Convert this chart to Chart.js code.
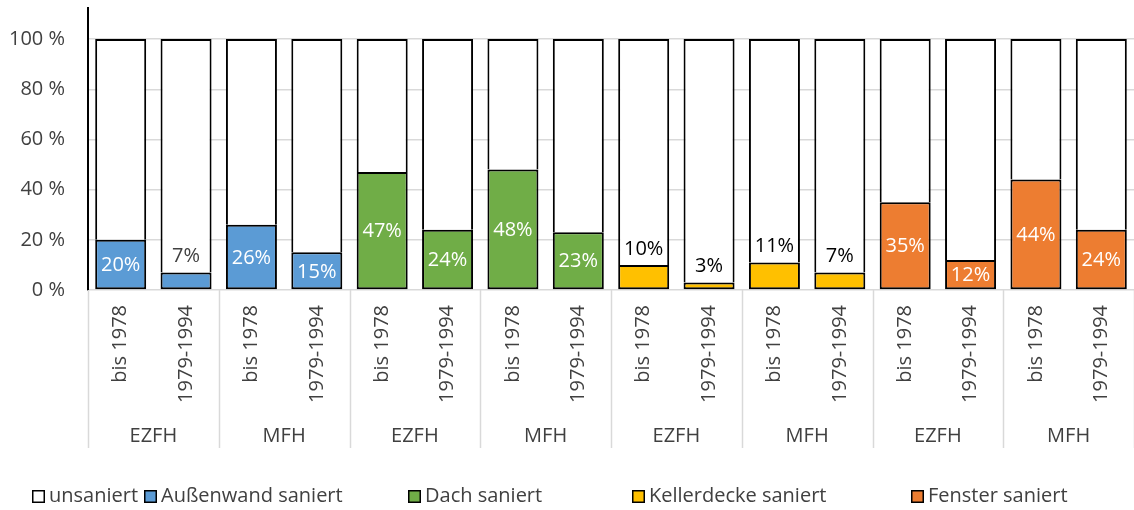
<!DOCTYPE html>
<html>
<head>
<meta charset="utf-8">
<script src="https://cdn.jsdelivr.net/npm/chart.js@4/dist/chart.umd.min.js"></script>
<style>
  html, body { margin: 0; padding: 0; background: #fff; }
  #wrap { width: 1134px; height: 510px; position: relative; }
</style>
</head>
<body>
<div id="wrap"><canvas id="c" width="1134" height="510"></canvas></div>
<script>
// Baualtersklassen (erste Achsenebene) und Gebäudetypen (zweite Ebene)
const periods = [
  'bis 1978', '1979-1994', 'bis 1978', '1979-1994',
  'bis 1978', '1979-1994', 'bis 1978', '1979-1994',
  'bis 1978', '1979-1994', 'bis 1978', '1979-1994',
  'bis 1978', '1979-1994', 'bis 1978', '1979-1994'
];
const buildingTypes = ['EZFH', 'MFH', 'EZFH', 'MFH', 'EZFH', 'MFH', 'EZFH', 'MFH'];

// Anteile in Prozent je Bauteil
const aussenwand  = [20, 7, 26, 15, null, null, null, null, null, null, null, null, null, null, null, null];
const dach        = [null, null, null, null, 47, 24, 48, 23, null, null, null, null, null, null, null, null];
const kellerdecke = [null, null, null, null, null, null, null, null, 10, 3, 11, 7, null, null, null, null];
const fenster     = [null, null, null, null, null, null, null, null, null, null, null, null, 35, 12, 44, 24];
const unsaniert   = [80, 93, 74, 85, 53, 76, 52, 77, 90, 97, 89, 93, 65, 88, 56, 76];

const yTicks = [0, 20, 40, 60, 80, 100];

const FONT = '"Open Sans", "Noto Sans", sans-serif';
const TEXT = '#404040';
const GRID = '#d9d9d9';

// Legend slot positions along the bottom row
const legendSlots = [32, 144, 408, 632, 911];

const colored = (label, data, color, labelMode) => ({
  label, data, backgroundColor: color, borderColor: '#000', borderWidth: 2,
  borderSkipped: false, labelMode
});

const datasets = [
  colored('Außenwand saniert', aussenwand, '#5B9BD5', 'auto'),
  colored('Dach saniert', dach, '#70AD47', 'auto'),
  colored('Kellerdecke saniert', kellerdecke, '#FFC000', 'above'),
  colored('Fenster saniert', fenster, '#ED7D31', 'auto'),
  {
    label: 'unsaniert', data: unsaniert, backgroundColor: '#fff', borderColor: '#000',
    borderWidth: 2, borderSkipped: 'start', labelMode: 'none'
  }
];
const legendOrder = ['unsaniert', 'Außenwand saniert', 'Dach saniert', 'Kellerdecke saniert', 'Fenster saniert'];

// Value labels on the renovated shares
const valueLabels = {
  id: 'valueLabels',
  afterDatasetsDraw(chart) {
    const ctx = chart.ctx;
    ctx.save();
    ctx.textAlign = 'center';
    ctx.textBaseline = 'middle';
    ctx.font = '20px ' + FONT;
    chart.data.datasets.forEach((ds, di) => {
      if (ds.labelMode === 'none') return;
      const meta = chart.getDatasetMeta(di);
      meta.data.forEach((bar, i) => {
        const v = ds.data[i];
        if (v === null || v === undefined) return;
        const text = v + '%';
        const above = ds.labelMode === 'above' || v < 10;
        if (above) {
          ctx.fillStyle = ds.labelMode === 'above' ? '#000' : TEXT;
          ctx.fillText(text, bar.x, bar.y - 16);
        } else {
          ctx.fillStyle = '#fff';
          ctx.fillText(text, bar.x, (bar.y + bar.base) / 2 + 1);
        }
      });
    });
    ctx.restore();
  }
};

// Two-level category axis and bottom legend
const categoryAxis = {
  id: 'categoryAxis',
  afterDraw(chart) {
    const ctx = chart.ctx;
    const xs = chart.scales.x;
    const area = chart.chartArea;
    const step = (xs.right - xs.left) / periods.length;
    ctx.save();

    // rotated period labels
    ctx.font = '20px ' + FONT;
    ctx.fillStyle = TEXT;
    periods.forEach((p, i) => {
      const x = xs.getPixelForValue(i);
      ctx.save();
      ctx.translate(x, area.bottom + 15);
      ctx.rotate(-Math.PI / 2);
      ctx.textAlign = 'right';
      ctx.textBaseline = 'middle';
      ctx.fillText(p, 0, 0);
      ctx.restore();
    });

    // group separators
    ctx.strokeStyle = GRID;
    ctx.lineWidth = 1.5;
    for (let k = 0; k <= buildingTypes.length; k++) {
      const x = Math.round(xs.left + k * 2 * step) + 0.5;
      ctx.beginPath();
      ctx.moveTo(x, area.bottom);
      ctx.lineTo(x, area.bottom + 158);
      ctx.stroke();
    }

    // building type labels
    ctx.textAlign = 'center';
    ctx.textBaseline = 'middle';
    buildingTypes.forEach((t, k) => {
      const x = xs.left + (k * 2 + 1) * step;
      ctx.fillText(t, x, area.bottom + 146);
    });

    // legend
    const ly = 496.5;
    legendOrder.forEach((name, j) => {
      const ds = chart.data.datasets.find(d => d.label === name);
      const mx = legendSlots[j];
      ctx.fillStyle = ds.backgroundColor;
      ctx.fillRect(mx, ly - 6.5, 13, 13);
      ctx.strokeStyle = '#000';
      ctx.lineWidth = 1.5;
      ctx.strokeRect(mx + 0.75, ly - 5.75, 11.5, 11.5);
      ctx.fillStyle = TEXT;
      ctx.textAlign = 'left';
      ctx.fillText(name, mx + 17, ly);
    });
    ctx.restore();
  }
};

new Chart(document.getElementById('c'), {
  type: 'bar',
  data: { labels: periods, datasets },
  options: {
    responsive: false,
    devicePixelRatio: 1,
    animation: false,
    layout: { padding: { top: 8, right: 0, bottom: 0, left: 0 } },
    plugins: { legend: { display: false }, tooltip: { enabled: false } },
    datasets: { bar: { barPercentage: 0.78, categoryPercentage: 1 } },
    scales: {
      x: {
        stacked: true,
        grid: { display: false },
        border: { display: false },
        ticks: { display: false },
        afterFit(s) { s.height = 220; s.paddingLeft = 0; s.paddingRight = 0; }
      },
      y: {
        stacked: true,
        min: 0,
        max: 112.4,
        afterBuildTicks(s) { s.ticks = yTicks.map(v => ({ value: v })); },
        afterFit(s) { s.width = 88; s.paddingTop = 0; s.paddingBottom = 0; },
        ticks: {
          padding: 23,
          color: TEXT,
          font: { family: FONT, size: 20 },
          callback: v => v + ' %'
        },
        grid: { color: GRID, lineWidth: 1.5, drawTicks: false },
        border: { color: '#000', width: 2 }
      }
    }
  },
  plugins: [valueLabels, categoryAxis]
});
</script>
</body>
</html>
